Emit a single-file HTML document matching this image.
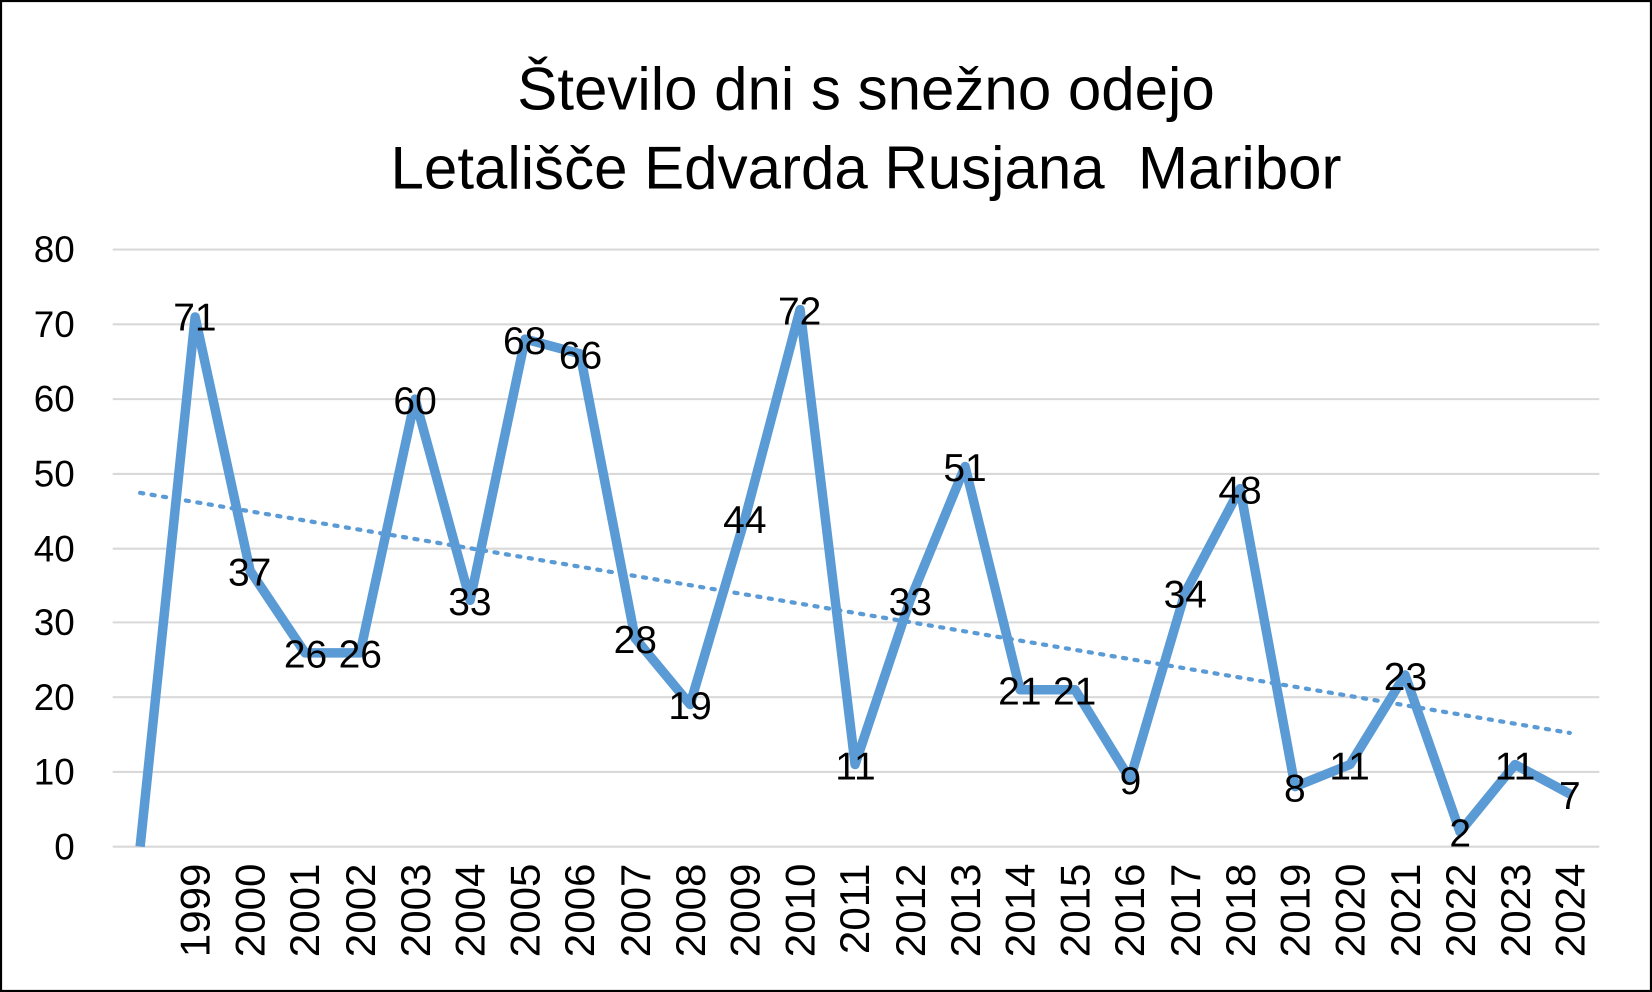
<!DOCTYPE html>
<html><head><meta charset="utf-8"><style>
html,body{margin:0;padding:0;background:#fff;}
svg{display:block;}
text{font-family:"Liberation Sans",sans-serif;fill:#000;}
</style></head><body>
<svg width="1652" height="992" viewBox="0 0 1568 942" preserveAspectRatio="none" xmlns="http://www.w3.org/2000/svg">
<rect x="1" y="1" width="1566" height="940" fill="#fff" stroke="#000" stroke-width="2"/>
<text x="822" y="104" font-size="57" text-anchor="middle">Število dni s snežno odejo</text>
<text x="822" y="179" font-size="57" text-anchor="middle" xml:space="preserve">Letališče Edvarda Rusjana  Maribor</text>
<g stroke="#d9d9d9" stroke-width="2">
<line x1="107" x2="1518" y1="237" y2="237"/><line x1="107" x2="1518" y1="308" y2="308"/>
<line x1="107" x2="1518" y1="379" y2="379"/><line x1="107" x2="1518" y1="450" y2="450"/>
<line x1="107" x2="1518" y1="521" y2="521"/><line x1="107" x2="1518" y1="591" y2="591"/>
<line x1="107" x2="1518" y1="662" y2="662"/><line x1="107" x2="1518" y1="733" y2="733"/>
<line x1="107" x2="1518" y1="804" y2="804"/>
</g>
<g font-size="35" text-anchor="end">
<text x="71" y="249">80</text><text x="71" y="320">70</text><text x="71" y="391">60</text>
<text x="71" y="462">50</text><text x="71" y="533">40</text><text x="71" y="603">30</text>
<text x="71" y="674">20</text><text x="71" y="745">10</text><text x="71" y="816">0</text>
</g>
<line x1="133" y1="468" x2="1490" y2="696" stroke="#5b9bd5" stroke-width="4" stroke-dasharray="3,8" stroke-linecap="round"/>
<polyline fill="none" stroke="#5b9bd5" stroke-width="9" stroke-linejoin="round" points="133,804 185.2,301 237.4,542 289.6,620 341.8,620 394,379 446.2,570 498.4,322 550.6,336 602.8,606 655,669 707.2,492 759.4,294 811.6,726 863.8,570 916,443 968.2,655 1020.4,655 1072.6,740 1124.8,563 1177,464 1229.2,747 1281.4,726 1333.6,641 1385.8,790 1438,726 1490.2,754"/>
<g font-size="37" text-anchor="middle">
<text x="185" y="314">71</text><text x="237" y="556">37</text><text x="290" y="634">26</text><text x="342" y="634">26</text>
<text x="394" y="393">60</text><text x="446" y="584">33</text><text x="498" y="336">68</text><text x="551" y="350">66</text>
<text x="603" y="620">28</text><text x="655" y="683">19</text><text x="707" y="506">44</text><text x="759" y="308">72</text>
<text x="812" y="740">11</text><text x="864" y="584">33</text><text x="916" y="457">51</text><text x="968" y="669">21</text>
<text x="1020" y="669">21</text><text x="1073" y="754">9</text><text x="1125" y="577">34</text><text x="1177" y="478">48</text>
<text x="1229" y="761">8</text><text x="1281" y="740">11</text><text x="1334" y="655">23</text><text x="1386" y="804">2</text>
<text x="1438" y="740">11</text><text x="1490" y="768">7</text>
</g>
<g font-size="40" text-anchor="end">
<text transform="translate(199,820) rotate(-90)">1999</text>
<text transform="translate(251,820) rotate(-90)">2000</text>
<text transform="translate(303,820) rotate(-90)">2001</text>
<text transform="translate(356,820) rotate(-90)">2002</text>
<text transform="translate(408,820) rotate(-90)">2003</text>
<text transform="translate(460,820) rotate(-90)">2004</text>
<text transform="translate(512,820) rotate(-90)">2005</text>
<text transform="translate(564,820) rotate(-90)">2006</text>
<text transform="translate(617,820) rotate(-90)">2007</text>
<text transform="translate(669,820) rotate(-90)">2008</text>
<text transform="translate(721,820) rotate(-90)">2009</text>
<text transform="translate(773,820) rotate(-90)">2010</text>
<text transform="translate(825,820) rotate(-90)">2011</text>
<text transform="translate(878,820) rotate(-90)">2012</text>
<text transform="translate(930,820) rotate(-90)">2013</text>
<text transform="translate(982,820) rotate(-90)">2014</text>
<text transform="translate(1034,820) rotate(-90)">2015</text>
<text transform="translate(1086,820) rotate(-90)">2016</text>
<text transform="translate(1139,820) rotate(-90)">2017</text>
<text transform="translate(1191,820) rotate(-90)">2018</text>
<text transform="translate(1243,820) rotate(-90)">2019</text>
<text transform="translate(1295,820) rotate(-90)">2020</text>
<text transform="translate(1348,820) rotate(-90)">2021</text>
<text transform="translate(1400,820) rotate(-90)">2022</text>
<text transform="translate(1452,820) rotate(-90)">2023</text>
<text transform="translate(1504,820) rotate(-90)">2024</text>
</g>
</svg>
</body></html>
